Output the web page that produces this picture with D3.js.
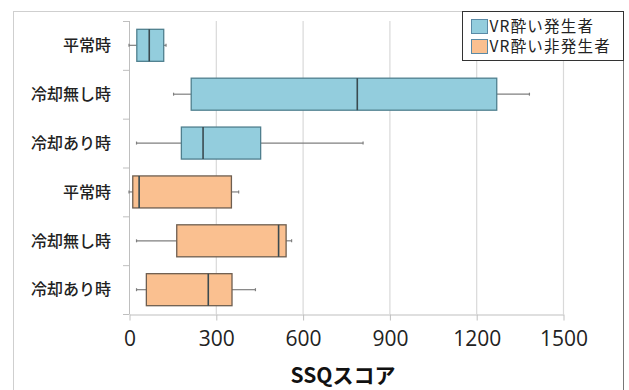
<!DOCTYPE html>
<html>
<head>
<meta charset="utf-8">
<script src="https://cdn.jsdelivr.net/npm/d3@7/dist/d3.min.js"></script>
<style>
  html, body { margin: 0; padding: 0; background: #fff; }
  svg { display: block; }
  text { font-family: "Noto Sans CJK JP", "Noto Sans", sans-serif; }
</style>
</head>
<body>
<svg id="chart" width="629" height="390"></svg>
<script>
// Conditions, top to bottom
const categories = ["平常時", "冷却無し時", "冷却あり時", "平常時", "冷却無し時", "冷却あり時"];
const groups = ["VR酔い発生者", "VR酔い発生者", "VR酔い発生者", "VR酔い非発生者", "VR酔い非発生者", "VR酔い非発生者"];
// Five-number summaries of SSQ scores
const whiskerLow  = [0,   154, 26,  0,   26,  26];
const q1          = [27,  215, 181, 13,  165, 60];
const median      = [70,  789, 256, 35,  517, 274];
const q3          = [120, 1271, 455, 354, 543, 356];
const whiskerHigh = [128, 1384, 809, 379, 562, 437];
const xTicks = [0, 300, 600, 900, 1200, 1500];
const legendItems = ["VR酔い発生者", "VR酔い非発生者"];
const fills = { "VR酔い発生者": "#93cddd", "VR酔い非発生者": "#fac090" };
const strokes = { "VR酔い発生者": "#4f7f8e", "VR酔い非発生者": "#6e5e50" };

const svg = d3.select("#chart");

// outer chart frame
svg.append("rect").attr("x", 13.5).attr("y", 11.5).attr("width", 610).attr("height", 400)
  .attr("fill", "none").attr("stroke", "#cfcfcf");
svg.append("line").attr("x1", 623.5).attr("x2", 623.5).attr("y1", 11).attr("y2", 390)
  .attr("stroke", "#777");

const x = d3.scaleLinear().domain([0, 1500]).range([129, 563]);
const rows = d3.range(categories.length);
const y = d3.scaleBand().domain(rows).range([21, 314]).paddingInner(0.345).paddingOuter(0.17);
const band = d3.scaleBand().domain(rows).range([21, 314]);

// vertical gridlines
svg.append("g").selectAll("line").data(xTicks.slice(1)).join("line")
  .attr("x1", d => x(d) + 0.5).attr("x2", d => x(d) + 0.5)
  .attr("y1", 21).attr("y2", 314)
  .attr("stroke", "#d9d9d9").attr("stroke-width", 1.2);

// x axis
const xAxis = svg.append("g").attr("transform", "translate(0.5,314.5)")
  .call(d3.axisBottom(x).tickValues(xTicks).tickFormat(d3.format("d"))
    .tickSize(6).tickPadding(11).tickSizeOuter(0));
xAxis.select(".domain").attr("stroke", "#bfbfbf");
xAxis.selectAll(".tick line").attr("stroke", "#bfbfbf");
xAxis.selectAll(".tick text").attr("font-size", 21).attr("fill", "#222")
  .style("font-family", "'Open Sans', 'Noto Sans', sans-serif");

// y axis: category bands with tick marks between them
const yAxisG = svg.append("g");
yAxisG.append("line").attr("x1", 129.5).attr("x2", 129.5).attr("y1", 21).attr("y2", 314)
  .attr("stroke", "#bfbfbf");
yAxisG.selectAll("line.tk").data(rows.concat([rows.length])).join("line").attr("class", "tk")
  .attr("x1", 123).attr("x2", 129.5)
  .attr("y1", d => (d < rows.length ? band(d) : 314) + 0.5)
  .attr("y2", d => (d < rows.length ? band(d) : 314) + 0.5)
  .attr("stroke", "#bfbfbf");
yAxisG.selectAll("text").data(rows).join("text")
  .attr("x", 111).attr("y", d => band(d) + band.bandwidth() / 2)
  .attr("dy", "0.36em").attr("text-anchor", "end")
  .attr("font-size", 16).attr("font-weight", 500).attr("fill", "#222")
  .text(d => categories[d]);

// boxes and whiskers
const boxes = svg.append("g");
rows.forEach(i => {
  const cy = y(i) + y.bandwidth() / 2;
  const g = boxes.append("g");
  g.append("line").attr("x1", x(whiskerLow[i])).attr("x2", x(q1[i]))
    .attr("y1", cy).attr("y2", cy).attr("stroke", "#7f7f7f").attr("stroke-width", 1.2);
  g.append("line").attr("x1", x(q3[i])).attr("x2", x(whiskerHigh[i]))
    .attr("y1", cy).attr("y2", cy).attr("stroke", "#7f7f7f").attr("stroke-width", 1.2);
  [whiskerLow[i], whiskerHigh[i]].forEach(v => {
    g.append("line").attr("x1", x(v)).attr("x2", x(v))
      .attr("y1", cy - 1.5).attr("y2", cy + 1.5).attr("stroke", "#7f7f7f").attr("stroke-width", 1.2);
  });
  g.append("rect").attr("x", x(q1[i])).attr("y", y(i))
    .attr("width", x(q3[i]) - x(q1[i])).attr("height", y.bandwidth())
    .attr("fill", fills[groups[i]]).attr("stroke", strokes[groups[i]]).attr("stroke-width", 1.3);
  g.append("line").attr("x1", x(median[i])).attr("x2", x(median[i]))
    .attr("y1", y(i)).attr("y2", y(i) + y.bandwidth())
    .attr("stroke", "#3a4a50").attr("stroke-width", 1.6);
});

// x axis title
svg.append("text").attr("x", (x(0) + x(1500)) / 2 - 3).attr("y", 383)
  .attr("text-anchor", "middle").attr("font-size", 21).attr("font-weight", 700)
  .attr("fill", "#111").text("SSQスコア");

// legend
const lg = svg.append("g");
lg.append("rect").attr("x", 462.5).attr("y", 11.5).attr("width", 161).attr("height", 49)
  .attr("fill", "#fff").attr("stroke", "#333").attr("stroke-width", 1);
lg.selectAll("g").data(legendItems).join("g")
  .attr("transform", (d, i) => `translate(471.5,${19.5 + i * 20})`)
  .each(function(d) {
    const s = d3.select(this);
    s.append("rect").attr("width", 16).attr("height", 14)
      .attr("fill", fills[d]).attr("stroke", "#5a8aa6").attr("stroke-width", 1);
    s.append("text").attr("x", 18).attr("y", 7).attr("dy", "0.36em")
      .attr("font-size", 15.5).attr("letter-spacing", 1.2).attr("fill", "#222").text(d);
  });
</script>
</body>
</html>
